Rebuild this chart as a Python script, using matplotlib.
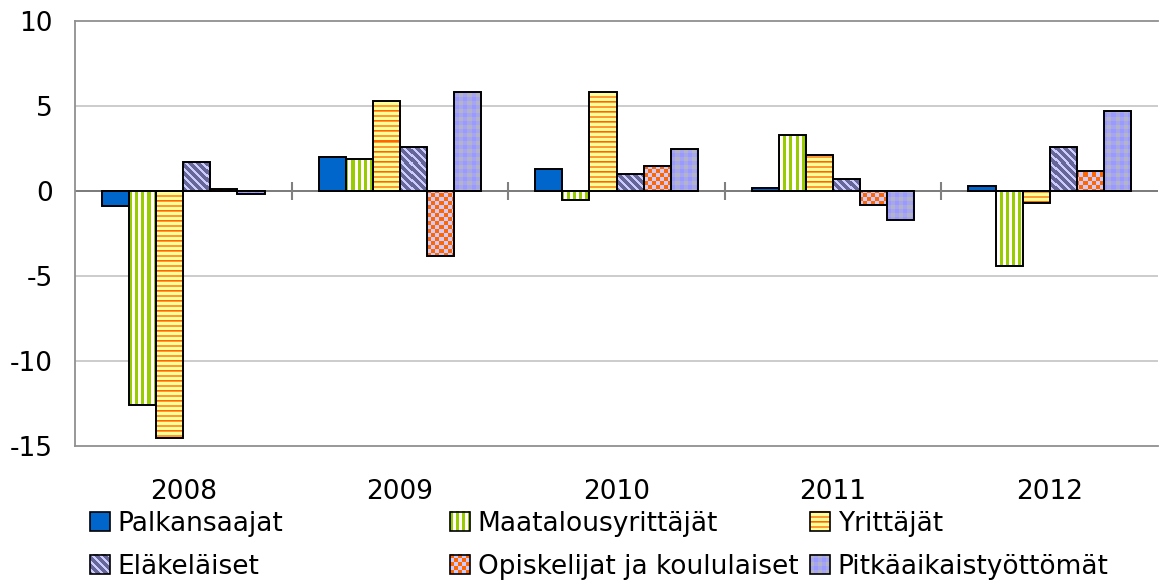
import numpy as np
import matplotlib
matplotlib.use("Agg")
import matplotlib.pyplot as plt
from matplotlib.patches import Rectangle
from matplotlib.legend_handler import HandlerBase
from matplotlib.image import BboxImage
from matplotlib.transforms import Bbox, TransformedBbox
from matplotlib.colors import to_rgb

years = ["2008", "2009", "2010", "2011", "2012"]
series_names = ["Palkansaajat", "Maatalousyrittäjät", "Yrittäjät",
                "Eläkeläiset", "Opiskelijat ja koululaiset", "Pitkäaikaistyöttömät"]
palkansaajat = [-0.9, 2.0, 1.3, 0.2, 0.3]
maatalousyrittajat = [-12.6, 1.9, -0.5, 3.3, -4.4]
yrittajat = [-14.5, 5.3, 5.8, 2.1, -0.7]
elakelaiset = [1.7, 2.6, 1.0, 0.7, 2.6]
opiskelijat = [0.1, -3.8, 1.5, -0.8, 1.2]
pitkaaikaistyottomat = [-0.2, 5.8, 2.5, -1.7, 4.7]
series_values = [palkansaajat, maatalousyrittajat, yrittajat,
                 elakelaiset, opiskelijat, pitkaaikaistyottomat]
yticks = [-15, -10, -5, 0, 5, 10]

plt.rcParams['font.family'] = ['DejaVu Sans']
FS = 19

W_PX, H_PX = 1159, 580
fig = plt.figure(figsize=(W_PX / 100, H_PX / 100), dpi=100)
ax_left, ax_right, ax_top, ax_bottom = 75, 1158, 21, 446
ax = fig.add_axes([ax_left / W_PX, 1 - ax_bottom / H_PX,
                   (ax_right - ax_left) / W_PX, (ax_bottom - ax_top) / H_PX])
AW, AH = ax_right - ax_left, ax_bottom - ax_top


def rgb(c):
    return np.array(to_rgb(c))


def texture(kind, h, w):
    r = np.arange(h)[:, None] * np.ones((1, w), dtype=int)
    c = np.ones((h, 1), dtype=int) * np.arange(w)[None, :]
    img = np.zeros((h, w, 3))
    if kind == "vstripe":
        m = (c % 6) < 3
        img[:] = rgb("#FFFFFF")
        img[m] = rgb("#99CC00")
    elif kind == "hstripe":
        img[:] = rgb("#FFFF99")
        img[(r % 5) < 2] = rgb("#FF9933")
        img[(r % 10) == 0] = rgb("#FF6600")
    elif kind == "diag":
        img[:] = rgb("#666699")
        img[((c - r) % 8) < 3] = rgb("#CCCCFF")
    elif kind == "checker":
        m = ((r // 4) + (c // 4)) % 2 == 0
        img[:] = rgb("#CCCCFF")
        img[m] = rgb("#FF6600")
    elif kind == "plaid":
        a = (r % 8) < 4
        b = (c % 8) < 4
        img[:] = rgb("#9999FF")
        img[a ^ b] = rgb("#A6A6EE")
        img[a & b] = rgb("#B4B4C8")
    return img


styles = [("solid", "#0066CC"), ("vstripe", None), ("hstripe", None),
          ("diag", None), ("checker", None), ("plaid", None)]

x = np.arange(1, len(years) + 1)
bw = 0.125
xlim = (0.5, len(years) + 0.5)
ylim = (-15, 10)

for i, (vals, (kind, face)) in enumerate(zip(series_values, styles)):
    offs = (i - 2.5) * bw
    bars = ax.bar(x + offs, vals, bw, facecolor=face if face else "none",
                  edgecolor="black", linewidth=1.4, zorder=3)
    if kind != "solid":
        tex = texture(kind, AH, AW)
        for p in bars.patches:
            im = ax.imshow(tex, extent=(xlim[0], xlim[1], ylim[0], ylim[1]),
                           origin="upper", interpolation="nearest",
                           aspect="auto", zorder=2.5)
            im.set_clip_path(p)

ax.set_xlim(*xlim)
ax.set_ylim(*ylim)
ax.set_aspect("auto")

for yv in [5, -5, -10]:
    ax.axhline(yv, color="#C8C8C8", lw=1.3, zorder=0)
ax.axhline(0, color="#707070", lw=1.3, zorder=1)
ax.vlines(x[:-1] + 0.5, -0.55, 0.55, color="#808080", lw=1.5, zorder=1)

for s in ["left", "top", "bottom"]:
    ax.spines[s].set_color("#909090")
    ax.spines[s].set_linewidth(1.3)
ax.spines["right"].set_visible(False)

ax.set_yticks(yticks)
ax.set_yticklabels([str(v) for v in yticks])
ax.set_xticks(x)
ax.set_xticklabels(years)
ax.tick_params(axis="y", length=0, pad=16, labelsize=FS)
ax.tick_params(axis="x", length=0, pad=24, labelsize=FS)


class TextureHandler(HandlerBase):
    def __init__(self, kind, face):
        super().__init__()
        self.kind = kind
        self.face = face

    def create_artists(self, legend, orig_handle, xdescent, ydescent,
                       width, height, fontsize, trans):
        x0, y0 = -xdescent, -ydescent
        arts = []
        if self.kind != "solid":
            bb = TransformedBbox(Bbox.from_bounds(x0, y0, width, height), trans)
            img = BboxImage(bb, interpolation="nearest")
            img.set_data(texture(self.kind, 20, 20))
            arts.append(img)
        rect = Rectangle((x0, y0), width, height,
                         facecolor=self.face if self.face else "none",
                         edgecolor="black", lw=1.2, transform=trans)
        arts.append(rect)
        return arts


col_x = [90, 450, 810]
for ci in range(3):
    idxs = [ci, ci + 3]
    handles = [Rectangle((0, 0), 1, 1) for _ in idxs]
    hmap = {h: TextureHandler(*styles[k]) for h, k in zip(handles, idxs)}
    leg = fig.legend(handles, [series_names[k] for k in idxs],
                     handler_map=hmap, loc="upper left",
                     bbox_to_anchor=(col_x[ci] / W_PX, 1 - 511 / H_PX),
                     frameon=False, fontsize=FS, borderpad=0, borderaxespad=0,
                     handlelength=0.75, handleheight=0.75, handletextpad=0.3,
                     labelspacing=0.64)

fig.savefig("out.png", dpi=100)
